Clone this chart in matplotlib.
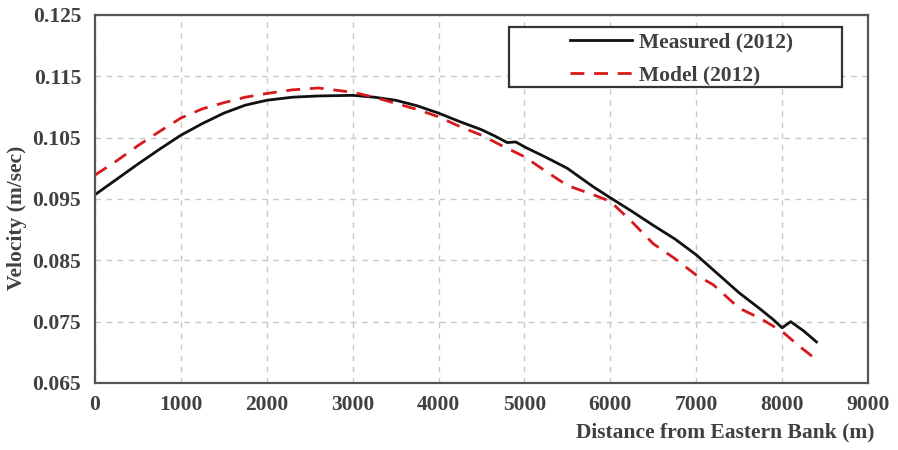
import matplotlib
matplotlib.use("Agg")
import matplotlib.pyplot as plt
from matplotlib.patches import Rectangle

# Measured velocity along the cross-section (2012)
meas_x = [0, 250, 500, 750, 1000, 1250, 1500, 1750, 2000, 2300, 2600, 3000, 3250, 3500,
          3750, 4000, 4250, 4500, 4650, 4800, 4900, 5000, 5250, 5500, 5800, 6000, 6250,
          6500, 6750, 7000, 7250, 7500, 7750, 7900, 8000, 8100, 8250, 8400]
meas_v = [0.0957, 0.0982, 0.1007, 0.1031, 0.1054, 0.1073, 0.1090, 0.1103, 0.1111, 0.1116,
          0.1118, 0.1119, 0.1116, 0.1111, 0.1102, 0.1090, 0.1076, 0.1063, 0.1053, 0.1042,
          0.1043, 0.1035, 0.1018, 0.1000, 0.0970, 0.0952, 0.0930, 0.0907, 0.0885, 0.0859,
          0.0828, 0.0797, 0.0770, 0.0753, 0.0740, 0.0750, 0.0735, 0.0717]

# Model velocity along the cross-section (2012)
model_x = [0, 250, 500, 750, 1000, 1250, 1500, 1750, 2000, 2300, 2600, 3000, 3250, 3500,
           3750, 4000, 4250, 4500, 4750, 5000, 5250, 5500, 5800, 6000, 6250, 6500, 6750,
           7000, 7200, 7500, 7750, 8000, 8200, 8400]
model_v = [0.0989, 0.1012, 0.1037, 0.1060, 0.1082, 0.1097, 0.1107, 0.1116, 0.1122, 0.1128,
           0.1131, 0.1124, 0.1116, 0.1106, 0.1096, 0.1084, 0.1068, 0.1054, 0.1036, 0.1019,
           0.0995, 0.0972, 0.0957, 0.0946, 0.0913, 0.0877, 0.0853, 0.0826, 0.0810, 0.0772,
           0.0755, 0.0734, 0.0710, 0.0688]

x_ticks = [0, 1000, 2000, 3000, 4000, 5000, 6000, 7000, 8000, 9000]
y_ticks = [0.065, 0.075, 0.085, 0.095, 0.105, 0.115, 0.125]

txt = "#404040"
fs = 15.5
plt.rcParams["font.family"] = ["Liberation Serif", "DejaVu Serif"]
plt.rcParams["font.weight"] = "bold"

W, H = 898, 450
fig = plt.figure(figsize=(W / 100, H / 100), dpi=100)
ax = fig.add_axes([95 / W, 1 - 383 / H, (868 - 95) / W, (383 - 15) / H])

ax.plot(meas_x, meas_v, color="#111111", lw=2.0, label="Measured (2012)")
ax.plot(model_x, model_v, color="#d7191c", lw=2.0, dashes=(5, 3.5), label="Model (2012)")

ax.set_xlim(0, 9000)
ax.set_ylim(0.065, 0.125)
ax.set_xticks(x_ticks)
ax.set_yticks(y_ticks)
ax.set_xticklabels([str(v) for v in x_ticks])
ax.set_yticklabels([f"{v:.3f}" for v in y_ticks])
ax.tick_params(length=0, labelsize=fs, colors=txt)
ax.tick_params(axis="x", pad=9)
ax.tick_params(axis="y", pad=10)
for lab in ax.get_xticklabels() + ax.get_yticklabels():
    lab.set_fontweight("bold")

ax.grid(True, color="#c8c8c8", ls=(0, (4, 4)), lw=1.0)
for s in ax.spines.values():
    s.set_color("#555555")
    s.set_linewidth(1.6)

fig.text(17 / W, 1 - 218 / H, "Velocity (m/sec)", rotation=90, ha="center", va="center",
         fontsize=fs, fontweight="bold", color=txt)
fig.text(875 / W, 1 - 432 / H, "Distance from Eastern Bank (m)", ha="right", va="center",
         fontsize=fs, fontweight="bold", color=txt)

# legend box and entries
ax.add_patch(Rectangle((509 / W, 1 - 87 / H), 333 / W, 60 / H,
                       transform=fig.transFigure, facecolor="white",
                       edgecolor="#333333", lw=1.6, zorder=5, clip_on=False))
leg = ax.legend(loc="center left", bbox_to_anchor=(570 / W, 1 - 59 / H),
                bbox_transform=fig.transFigure, fontsize=fs, frameon=False,
                handlelength=2.9, borderpad=0, borderaxespad=0, labelspacing=0.62,
                handletextpad=0.3)
leg.set_zorder(6)
for t in leg.get_texts():
    t.set_color(txt)
    t.set_fontweight("bold")

fig.savefig("out.png", dpi=100)
